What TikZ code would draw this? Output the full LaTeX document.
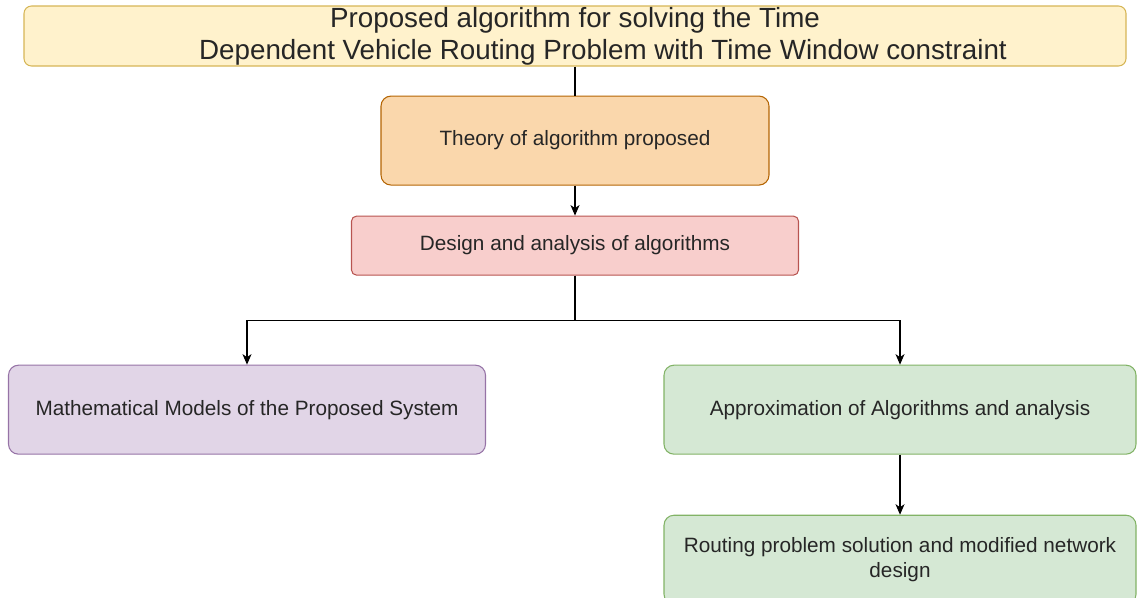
\documentclass[tikz,border=0pt]{standalone}
\usepackage{fontspec}
\setmainfont{Liberation Sans}
\usepackage{tikz}
\usetikzlibrary{positioning,arrows.meta}
\definecolor{titlefill}{HTML}{FFF2CC}
\definecolor{titleline}{HTML}{D6B656}
\definecolor{theoryfill}{HTML}{FAD7AC}
\definecolor{theoryline}{HTML}{B46504}
\definecolor{designfill}{HTML}{F8CECC}
\definecolor{designline}{HTML}{B85450}
\definecolor{mathfill}{HTML}{E1D5E7}
\definecolor{mathline}{HTML}{9673A6}
\definecolor{approxfill}{HTML}{D5E8D4}
\definecolor{approxline}{HTML}{82B366}

\begin{document}
\begin{tikzpicture}[node distance=0.6cm, text=black!85,
    font=\fontsize{11.8}{14.2}\selectfont,
    box/.style={draw, line width=0.6pt, rounded corners=0.2cm, minimum height=1.78cm, align=center},
    link/.style={line width=0.6pt, -{Stealth[length=2.1mm,width=1.8mm,inset=0.6mm]}}]
        \useasboundingbox (0,0) rectangle (22.76,-11.94);

        % Title
        \node [box, fill=titlefill, draw=titleline, rounded corners=0.15cm, inner ysep=0pt, minimum width=22.04cm, minimum height=1.2cm, font=\fontsize{15.8}{18}\selectfont] (title) at (11.5,-0.72) {Proposed algorithm for solving the Time\\\hspace*{1.12cm}Dependent Vehicle Routing Problem with Time Window constraint};

        % Theory and design
        \node [box, fill=theoryfill, draw=theoryline, below=0.58cm of title, minimum width=7.76cm] (theory) {Theory of algorithm proposed};
        \node [box, fill=designfill, draw=designline, below=of theory, rounded corners=0.1cm, minimum width=8.94cm, minimum height=1.18cm] (design) {Design and analysis of algorithms};

        % Two branches
        \node [box, fill=mathfill, draw=mathline, below=1.78cm of design, xshift=-6.56cm, minimum width=9.54cm] (models) {Mathematical Models of the Proposed System};
        \node [box, fill=approxfill, draw=approxline, below=1.78cm of design, xshift=6.5cm, minimum width=9.44cm] (approx) {Approximation of Algorithms and analysis};

        % Result
        \node [box, fill=approxfill, draw=approxline, below=1.2cm of approx, minimum width=9.44cm, font=\fontsize{11.8}{14.6}\selectfont] (routing) {Routing problem solution and modified network\\design};

        % Arrows
        \draw [line width=0.6pt] (title) -- (theory);
        \draw [link] (theory) -- (design);
        \draw [link] (design.south) -- ++(0,-0.9) -| (models.north);
        \draw [link] (design.south) -- ++(0,-0.9) -| (approx.north);
        \draw [link] (approx) -- (routing);
    \end{tikzpicture}
\end{document}
